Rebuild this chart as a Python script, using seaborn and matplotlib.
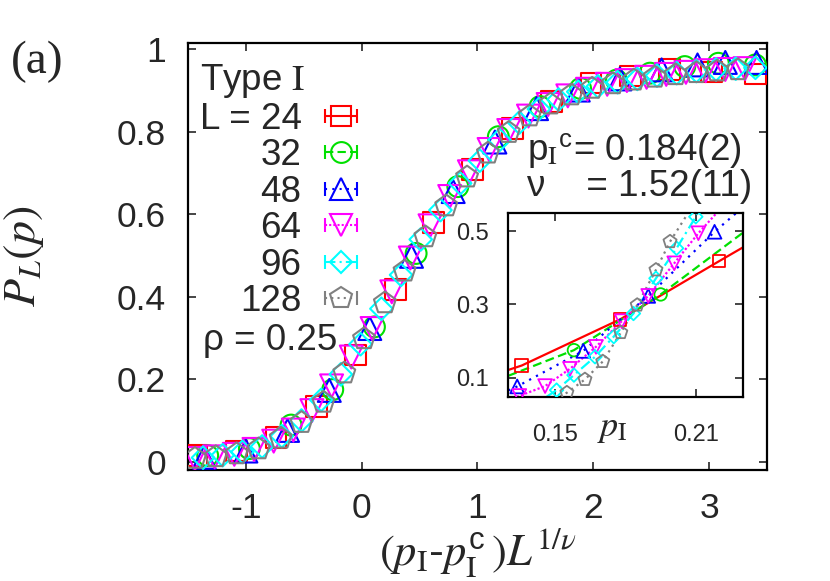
import matplotlib
matplotlib.use("Agg")
import matplotlib.pyplot as plt
import seaborn as sns
from matplotlib.lines import Line2D
from matplotlib.legend_handler import HandlerLine2D
from matplotlib.ticker import FuncFormatter

# ---- main panel: scaled data (p - pc) L^(1/nu), P_L ----
x24 = [-1.43, -1.08, -0.74, -0.39, -0.05, 0.29, 0.62, 0.96, 1.30, 1.64, 1.98, 2.32, 2.66, 3.02, 3.40]
y24 = [0.016, 0.026, 0.058, 0.133, 0.259, 0.418, 0.580, 0.708, 0.808, 0.873, 0.918, 0.935, 0.950, 0.945, 0.940]

x32 = [-1.33, -0.97, -0.61, -0.25, 0.11, 0.47, 0.83, 1.18, 1.54, 1.89, 2.20, 2.49, 2.79, 3.08, 3.40]
y32 = [0.015, 0.032, 0.089, 0.175, 0.327, 0.505, 0.667, 0.788, 0.861, 0.905, 0.925, 0.942, 0.958, 0.966, 0.962]

x48 = [-1.36, -1.00, -0.64, -0.28, 0.07, 0.43, 0.79, 1.15, 1.51, 1.87, 2.23, 2.59, 2.90, 3.14, 3.41]
y48 = [0.011, 0.026, 0.076, 0.173, 0.323, 0.498, 0.655, 0.775, 0.856, 0.901, 0.928, 0.950, 0.962, 0.968, 0.968]

x64 = [-1.44, -1.27, -1.10, -0.93, -0.76, -0.59, -0.43, -0.26, -0.09, 0.09, 0.26, 0.42, 0.59, 0.76, 0.93,
       1.10, 1.27, 1.44, 1.61, 1.78, 1.95, 2.12, 2.29, 2.46, 2.63, 2.80, 2.97, 3.14, 3.31]
y64 = [0.008, 0.012, 0.018, 0.030, 0.050, 0.077, 0.124, 0.184, 0.254, 0.323, 0.412, 0.494, 0.572, 0.643, 0.703,
       0.757, 0.803, 0.838, 0.866, 0.887, 0.903, 0.915, 0.924, 0.932, 0.939, 0.944, 0.948, 0.951, 0.953]

x96 = [-1.37, -1.20, -1.03, -0.86, -0.69, -0.52, -0.35, -0.18, -0.01, 0.17, 0.34, 0.51, 0.68, 0.85, 1.02,
       1.19, 1.36, 1.53, 1.70, 1.87, 2.04, 2.21, 2.38, 2.55, 2.72, 2.89, 3.06, 3.23, 3.40]
y96 = [0.010, 0.016, 0.024, 0.037, 0.062, 0.100, 0.150, 0.212, 0.285, 0.371, 0.453, 0.539, 0.610, 0.675, 0.730,
       0.780, 0.822, 0.855, 0.878, 0.897, 0.910, 0.920, 0.928, 0.936, 0.942, 0.947, 0.951, 0.953, 0.955]

x128 = [-1.44, -1.26, -1.08, -0.89, -0.70, -0.52, -0.33, -0.15, 0.02, 0.20, 0.37, 0.55, 0.73, 0.91,
        1.09, 1.27, 1.45, 1.63, 1.81, 1.99, 2.17, 2.35, 2.53, 2.71, 2.89, 3.07, 3.25]
y128 = [0.008, 0.012, 0.019, 0.031, 0.057, 0.095, 0.144, 0.215, 0.298, 0.385, 0.462, 0.545, 0.620, 0.690,
        0.748, 0.798, 0.838, 0.867, 0.889, 0.905, 0.916, 0.925, 0.932, 0.938, 0.943, 0.947, 0.950]

# ---- inset: raw p_I, P_L ----
p24 = [0.1357, 0.1777, 0.2200]
P24 = [0.133, 0.259, 0.418]
p32 = [0.1580, 0.1950]
P32 = [0.175, 0.327]
p48 = [0.1338, 0.1620, 0.1897, 0.2180]
P48 = [0.076, 0.173, 0.323, 0.498]
p64 = [0.1347, 0.1457, 0.1563, 0.1674, 0.1784, 0.1897, 0.2008, 0.2111]
P64 = [0.050, 0.077, 0.124, 0.184, 0.254, 0.323, 0.412, 0.494]
p96 = [0.1506, 0.1580, 0.1670, 0.1750, 0.1834, 0.1930, 0.2018, 0.2100]
P96 = [0.066, 0.107, 0.157, 0.212, 0.275, 0.371, 0.453, 0.539]
p128 = [0.1550, 0.1627, 0.1703, 0.1780, 0.1850, 0.1930, 0.1990]
P128 = [0.059, 0.095, 0.144, 0.223, 0.298, 0.394, 0.471]

# fit curves drawn in the inset
fit24_p = [0.130, 0.1357, 0.1777, 0.2200, 0.230]
fit24_P = [0.121, 0.133, 0.259, 0.418, 0.455]
fit32_p = [0.130, 0.1580, 0.1950, 0.230]
fit32_P = [0.105, 0.175, 0.327, 0.495]
fit48_p = [0.130, 0.1338, 0.1620, 0.1897, 0.2180, 0.2274]
fit48_P = [0.065, 0.076, 0.173, 0.323, 0.498, 0.550]
fit64_p = [0.130, 0.1347, 0.1457, 0.1563, 0.1674, 0.1784, 0.1897, 0.2008, 0.2111, 0.2190]
fit64_P = [0.040, 0.050, 0.077, 0.124, 0.184, 0.254, 0.323, 0.412, 0.494, 0.550]
fit96_p = [0.1464, 0.1506, 0.1580, 0.1670, 0.1750, 0.1834, 0.1930, 0.2018, 0.2100, 0.2107]
fit96_P = [0.048, 0.066, 0.107, 0.157, 0.212, 0.275, 0.371, 0.453, 0.539, 0.550]
fit128_p = [0.152, 0.1550, 0.1627, 0.1703, 0.1780, 0.1850, 0.1930, 0.1990, 0.2068]
fit128_P = [0.048, 0.059, 0.095, 0.144, 0.223, 0.298, 0.394, 0.471, 0.550]

sizes = ["24", "32", "48", "64", "96", "128"]
labels = ["L = 24", "32", "48", "64", "96", "128"]
colors = ["#ff0000", "#00e000", "#0000ff", "#ff00ff", "#00ffff", "#808080"]
markers = ["s", "o", "^", "v", "D", "p"]
msize = [15, 15, 16.5, 16.5, 11.5, 16.5]
lstyles = ["-", (0, (4, 2)), (0, (1, 2.5)), (0, (1, 1)), (0, (5, 2, 1, 2)), (0, (1, 2))]

main_x = [x24, x32, x48, x64, x96, x128]
main_y = [y24, y32, y48, y64, y96, y128]
ins_x = [p24, p32, p48, p64, p96, p128]
ins_y = [P24, P32, P48, P64, P96, P128]
fit_x = [fit24_p, fit32_p, fit48_p, fit64_p, fit96_p, fit128_p]
fit_y = [fit24_P, fit32_P, fit48_P, fit64_P, fit96_P, fit128_P]

sns.set_style("ticks")
plt.rcParams["font.family"] = ["Liberation Sans", "DejaVu Sans"]
plt.rcParams["mathtext.fontset"] = "stix"
plt.rcParams["axes.unicode_minus"] = False

fig = plt.figure(figsize=(8.3, 5.81), dpi=100)
ax = fig.add_axes([0.2265, 0.191, 0.6976, 0.7349])

for xs, ys, col, mk, ms in zip(main_x, main_y, colors, markers, msize):
    sns.scatterplot(x=xs, y=ys, ax=ax, marker=mk, s=ms ** 2, color=col,
                    facecolor="none", edgecolor=col, linewidth=1.5, zorder=3, legend=False)

ax.set_xlim(-1.5, 3.5)
ax.set_ylim(-0.02, 1.015)
ax.set_xticks([-1, 0, 1, 2, 3])
ax.set_yticks([0, 0.2, 0.4, 0.6, 0.8, 1.0])
ax.yaxis.set_major_formatter(FuncFormatter(lambda v, _: f"{v:g}"))
ax.tick_params(direction="in", length=6, width=1.2, top=True, right=True,
               labelsize=25.5, pad=16)
for sp in ax.spines.values():
    sp.set_linewidth(1.6)
    sp.set_color("black")

ax.set_ylabel(r"$P_L(p)$", fontsize=33)
ax.yaxis.set_label_coords(-0.245, 0.5)
ax.set_xlabel(r"$(p_{\mathrm{I}}$-$p_{\mathrm{I}}^{\mathregular{c}}\,)L^{1/\nu}$", fontsize=32)
ax.xaxis.set_label_coords(0.5, -0.13)

# legend in gnuplot style: text right-aligned, sample with error-bar caps on the right
handles = []
hmap = {}
for col, mk, ms, ls in zip(colors, markers, msize, lstyles):
    bar = Line2D([], [], color=col, linestyle=ls, lw=1.5, marker="|",
                 markersize=10, markeredgewidth=1.5)
    pt = Line2D([], [], color=col, linestyle="none", marker=mk, markersize=ms,
                markerfacecolor="none", markeredgewidth=1.5)
    hmap[bar] = HandlerLine2D(numpoints=2, marker_pad=0)
    handles.append((bar, pt))

leg = ax.legend(handles, labels, handler_map=hmap, loc="upper left",
                bbox_to_anchor=(0.02, 0.955), frameon=False, markerfirst=False,
                title=r"Type $\mathrm{I}$", alignment="left", fontsize=26.5,
                title_fontsize=26.5, handlelength=0.85, handletextpad=0.65,
                labelspacing=0.04, borderaxespad=0, borderpad=0)

ax.text(0.026, 0.304, "ρ = 0.25", transform=ax.transAxes, fontsize=26.5,
        ha="left", va="center")
ax.text(0.585, 0.749, r"p$_{\mathrm{I}}$$^{\mathregular{c}}$= 0.184(2)", transform=ax.transAxes,
        fontsize=26.5, ha="left", va="center")
ax.text(0.585, 0.663, "ν    = 1.52(11)", transform=ax.transAxes, fontsize=26.5,
        ha="left", va="center")

fig.text(0.045, 0.893, "(a)", fontsize=34, family="Liberation Serif",
         ha="center", va="center")

# inset
ins = fig.add_axes([0.6124, 0.3172, 0.2824, 0.3167])
for fx, fy, px, py, col, mk, ms, ls in zip(fit_x, fit_y, ins_x, ins_y, colors, markers, msize, lstyles):
    sns.lineplot(x=fx, y=fy, ax=ins, color=col, linestyle=ls, lw=1.6, zorder=2)
    sns.scatterplot(x=px, y=py, ax=ins, marker=mk, s=(ms * 0.6) ** 2, color=col,
                    facecolor="none", edgecolor=col, linewidth=1.3, zorder=3, legend=False)

ins.set_xlim(0.13, 0.23)
ins.set_ylim(0.048, 0.55)
ins.set_xticks([0.15, 0.21])
ins.set_yticks([0.1, 0.3, 0.5])
ins.xaxis.set_major_formatter(FuncFormatter(lambda v, _: f"{v:g}"))
ins.yaxis.set_major_formatter(FuncFormatter(lambda v, _: f"{v:g}"))
ins.tick_params(direction="in", length=6, width=1.2, top=True, right=True, labelsize=17)
ins.tick_params(axis="x", pad=20)
ins.tick_params(axis="y", pad=14)
for sp in ins.spines.values():
    sp.set_linewidth(1.6)
    sp.set_color("black")
ins.text(0.445, -0.17, r"$p_{\mathrm{I}}$", transform=ins.transAxes, fontsize=26,
         ha="center", va="center")

fig.savefig("out.png", dpi=100)
